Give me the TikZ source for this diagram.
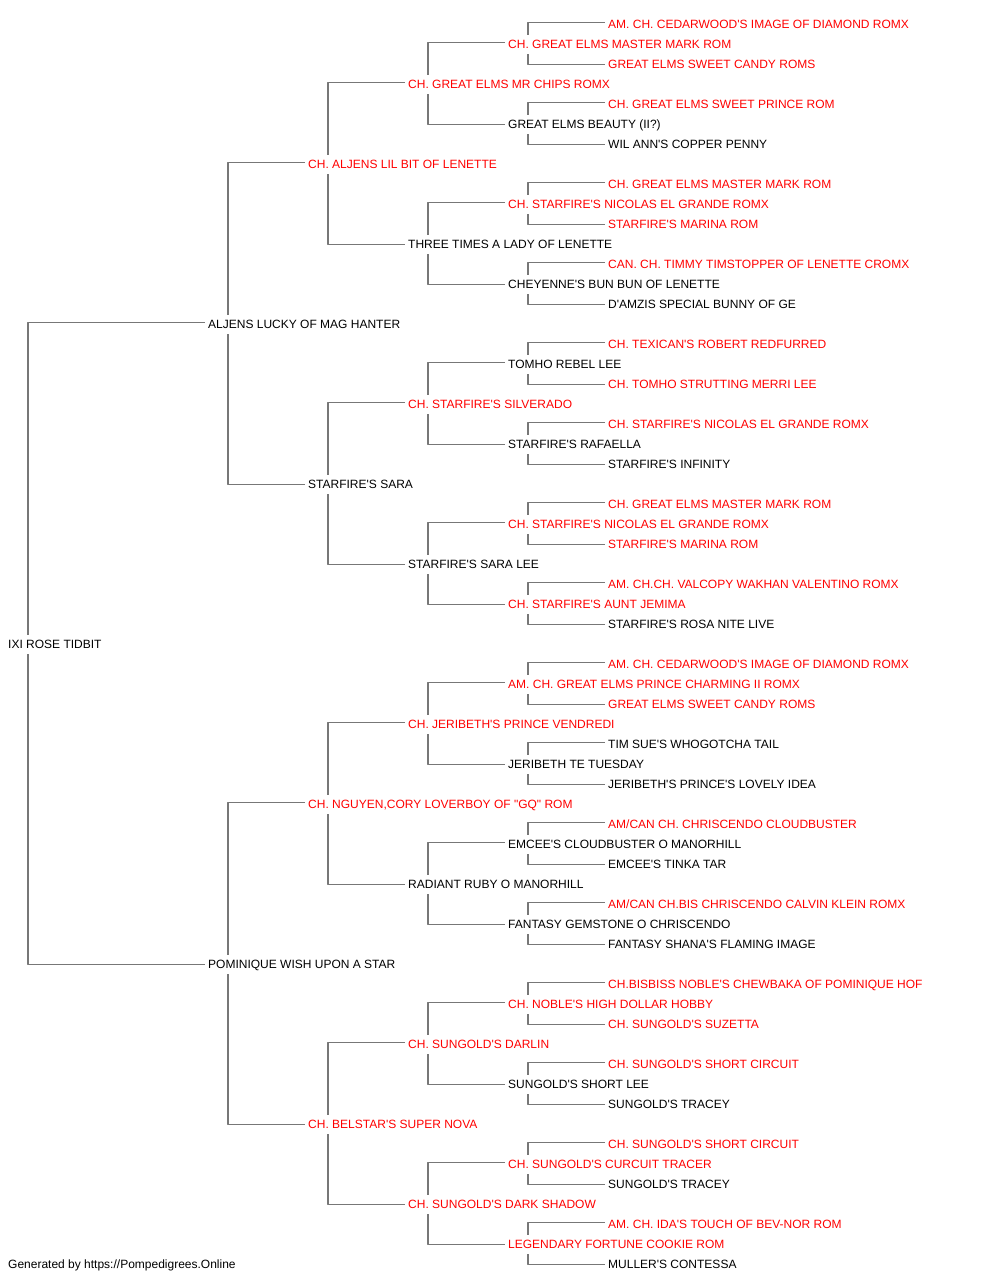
\documentclass[tikz,border=0pt]{standalone}
\usepackage{fontspec}
\setmainfont{Liberation Sans}[Ligatures=TeXOff]
\usetikzlibrary{backgrounds}
\definecolor{linegray}{RGB}{119,119,119}
\definecolor{pedred}{RGB}{255,0,0}
\newcommand\pednode[4]{\node[#3] (r#1) at (#2,{28.2+20*#1}) {#4};}
\begin{document}
\begin{tikzpicture}[x=1pt,y=-1pt,
  pn/.style={anchor=base west, fill=white, inner xsep=3pt, inner ysep=3.75pt,
    text height=9pt, text depth=2.5pt, font=\fontsize{12pt}{14pt}\selectfont},
  blk/.style={pn, text=black},
  rd/.style={pn, text=pedred},
  conn/.style={draw=linegray, line width=1.3pt, line join=round}]
\useasboundingbox (0,0) rectangle (1000,1280);
\pednode{0}{605}{rd}{AM. CH. CEDARWOOD'S IMAGE OF DIAMOND ROMX}
\pednode{1}{505}{rd}{CH. GREAT ELMS MASTER MARK ROM}
\pednode{2}{605}{rd}{GREAT ELMS SWEET CANDY ROMS}
\pednode{3}{405}{rd}{CH. GREAT ELMS MR CHIPS ROMX}
\pednode{4}{605}{rd}{CH. GREAT ELMS SWEET PRINCE ROM}
\pednode{5}{505}{blk}{GREAT ELMS BEAUTY (II?)}
\pednode{6}{605}{blk}{WIL ANN'S COPPER PENNY}
\pednode{7}{305}{rd}{CH. ALJENS LIL BIT OF LENETTE}
\pednode{8}{605}{rd}{CH. GREAT ELMS MASTER MARK ROM}
\pednode{9}{505}{rd}{CH. STARFIRE'S NICOLAS EL GRANDE ROMX}
\pednode{10}{605}{rd}{STARFIRE'S MARINA ROM}
\pednode{11}{405}{blk}{THREE TIMES A LADY OF LENETTE}
\pednode{12}{605}{rd}{CAN. CH. TIMMY TIMSTOPPER OF LENETTE CROMX}
\pednode{13}{505}{blk}{CHEYENNE'S BUN BUN OF LENETTE}
\pednode{14}{605}{blk}{D'AMZIS SPECIAL BUNNY OF GE}
\pednode{15}{205}{blk}{ALJENS LUCKY OF MAG HANTER}
\pednode{16}{605}{rd}{CH. TEXICAN'S ROBERT REDFURRED}
\pednode{17}{505}{blk}{TOMHO REBEL LEE}
\pednode{18}{605}{rd}{CH. TOMHO STRUTTING MERRI LEE}
\pednode{19}{405}{rd}{CH. STARFIRE'S SILVERADO}
\pednode{20}{605}{rd}{CH. STARFIRE'S NICOLAS EL GRANDE ROMX}
\pednode{21}{505}{blk}{STARFIRE'S RAFAELLA}
\pednode{22}{605}{blk}{STARFIRE'S INFINITY}
\pednode{23}{305}{blk}{STARFIRE'S SARA}
\pednode{24}{605}{rd}{CH. GREAT ELMS MASTER MARK ROM}
\pednode{25}{505}{rd}{CH. STARFIRE'S NICOLAS EL GRANDE ROMX}
\pednode{26}{605}{rd}{STARFIRE'S MARINA ROM}
\pednode{27}{405}{blk}{STARFIRE'S SARA LEE}
\pednode{28}{605}{rd}{AM. CH.CH. VALCOPY WAKHAN VALENTINO ROMX}
\pednode{29}{505}{rd}{CH. STARFIRE'S AUNT JEMIMA}
\pednode{30}{605}{blk}{STARFIRE'S ROSA NITE LIVE}
\pednode{31}{5}{blk}{IXI ROSE TIDBIT}
\pednode{32}{605}{rd}{AM. CH. CEDARWOOD'S IMAGE OF DIAMOND ROMX}
\pednode{33}{505}{rd}{AM. CH. GREAT ELMS PRINCE CHARMING II ROMX}
\pednode{34}{605}{rd}{GREAT ELMS SWEET CANDY ROMS}
\pednode{35}{405}{rd}{CH. JERIBETH'S PRINCE VENDREDI}
\pednode{36}{605}{blk}{TIM SUE'S WHOGOTCHA TAIL}
\pednode{37}{505}{blk}{JERIBETH TE TUESDAY}
\pednode{38}{605}{blk}{JERIBETH'S PRINCE'S LOVELY IDEA}
\pednode{39}{305}{rd}{CH. NGUYEN,CORY LOVERBOY OF "GQ" ROM}
\pednode{40}{605}{rd}{AM/CAN CH. CHRISCENDO CLOUDBUSTER}
\pednode{41}{505}{blk}{EMCEE'S CLOUDBUSTER O MANORHILL}
\pednode{42}{605}{blk}{EMCEE'S TINKA TAR}
\pednode{43}{405}{blk}{RADIANT RUBY O MANORHILL}
\pednode{44}{605}{rd}{AM/CAN CH.BIS CHRISCENDO CALVIN KLEIN ROMX}
\pednode{45}{505}{blk}{FANTASY GEMSTONE O CHRISCENDO}
\pednode{46}{605}{blk}{FANTASY SHANA'S FLAMING IMAGE}
\pednode{47}{205}{blk}{POMINIQUE WISH UPON A STAR}
\pednode{48}{605}{rd}{CH.BISBISS NOBLE'S CHEWBAKA OF POMINIQUE HOF}
\pednode{49}{505}{rd}{CH. NOBLE'S HIGH DOLLAR HOBBY}
\pednode{50}{605}{rd}{CH. SUNGOLD'S SUZETTA}
\pednode{51}{405}{rd}{CH. SUNGOLD'S DARLIN}
\pednode{52}{605}{rd}{CH. SUNGOLD'S SHORT CIRCUIT}
\pednode{53}{505}{blk}{SUNGOLD'S SHORT LEE}
\pednode{54}{605}{blk}{SUNGOLD'S TRACEY}
\pednode{55}{305}{rd}{CH. BELSTAR'S SUPER NOVA}
\pednode{56}{605}{rd}{CH. SUNGOLD'S SHORT CIRCUIT}
\pednode{57}{505}{rd}{CH. SUNGOLD'S CURCUIT TRACER}
\pednode{58}{605}{blk}{SUNGOLD'S TRACEY}
\pednode{59}{405}{rd}{CH. SUNGOLD'S DARK SHADOW}
\pednode{60}{605}{rd}{AM. CH. IDA'S TOUCH OF BEV-NOR ROM}
\pednode{61}{505}{rd}{LEGENDARY FORTUNE COOKIE ROM}
\pednode{62}{605}{blk}{MULLER'S CONTESSA}
\node[blk] (foot) at (5,{28.2+20*62}) {Generated by https://Pompedigrees.Online};
\begin{pgfonlayer}{background}
\fill[white] (0,0) rectangle (1000,1280);
\foreach \c/\d in {31/16,15/8,47/8,7/4,23/4,39/4,55/4,3/2,11/2,19/2,27/2,35/2,43/2,51/2,59/2,1/1,5/1,9/1,13/1,17/1,21/1,25/1,29/1,33/1,37/1,41/1,45/1,49/1,53/1,57/1,61/1}{
  \pgfmathtruncatemacro\a{\c-\d}
  \pgfmathtruncatemacro\b{\c+\d}
  \draw[conn] ([yshift=2.6pt]r\a.west) -| ([xshift=23pt]r\c.west) |- ([yshift=0.6pt]r\b.west);
}
\end{pgfonlayer}
\end{tikzpicture}
\end{document}
